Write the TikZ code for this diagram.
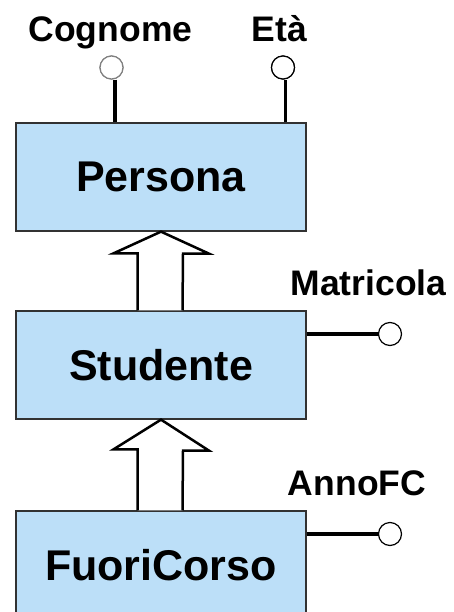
\documentclass[tikz,border=0pt]{standalone}
\usepackage{fontspec}
\setmainfont{Liberation Sans}
\usetikzlibrary{calc}
\definecolor{boxblue}{RGB}{188,223,248}
\definecolor{boxline}{RGB}{50,50,50}
\begin{document}
\begin{tikzpicture}[x=1pt,y=-1pt,
  entity/.style={draw=boxline,line width=1.3pt,fill=boxblue,minimum width=290pt,minimum height=108pt,inner sep=0pt,font=\fontsize{43}{50}\selectfont\bfseries},
  attrlabel/.style={anchor=base,inner sep=0pt,font=\fontsize{35.5}{40}\selectfont\bfseries},
  attrc/.style={circle,draw=black,fill=white,line width=1.2pt,minimum size=23pt,inner sep=0pt},
  attrline/.style={line width=3.5pt},
  isa/.style={line width=2.5pt,fill=white,line join=miter}]
\useasboundingbox (0,0) rectangle (453,612);
\clip (0,0) rectangle (453,612);

\node[entity] (pers) at (161,177) {Persona};
\node[entity] (stud) at (161,365) {Studente};
\node[entity] (fuori) at (161,565) {FuoriCorso};

% ISA arrows
\draw[isa] ($(stud.north)+(-23.5,0)$) -- ++(0,-57) -- ++(-24,0) -- (pers.south) -- ++(48,22) -- ++(-26,0) -- ($(stud.north)+(21.5,0)$);
\draw[isa] ($(fuori.north)+(-23.5,0)$) -- ++(0,-61) -- ++(-24,0) -- (stud.south) -- ++(48,31) -- ++(-26,0) -- ($(fuori.north)+(21.5,0)$);

% attributes of Persona
\node[attrc,draw=gray] (cog) at (111.5,67.5) {};
\node[attrc] (eta) at (283,67.5) {};
\draw[attrline] ([xshift=3.5pt]cog.south) -- ([xshift=3.5pt]cog.south |- pers.north);
\draw[attrline] ([xshift=2.5pt]eta.south) -- ([xshift=2.5pt]eta.south |- pers.north);
\node[attrc,draw=gray] at (cog) {};
\node[attrc] at (eta) {};
\node[attrlabel] (lcog) at (110.5,42) {Cognome};
\node[attrlabel] (leta) at (279.5,42) {Età};

% attribute of Studente
\node[attrc] (mat) at (390,334) {};
\draw[attrline] (stud.east |- mat) -- (mat.west);
\node[attrlabel] (lmat) at (368.5,295) {Matricola};

% attribute of FuoriCorso
\node[attrc] (afc) at (390,534) {};
\draw[attrline] (fuori.east |- afc) -- (afc.west);
\node[attrlabel] (lafc) at (357,495) {AnnoFC};
\end{tikzpicture}
\end{document}
